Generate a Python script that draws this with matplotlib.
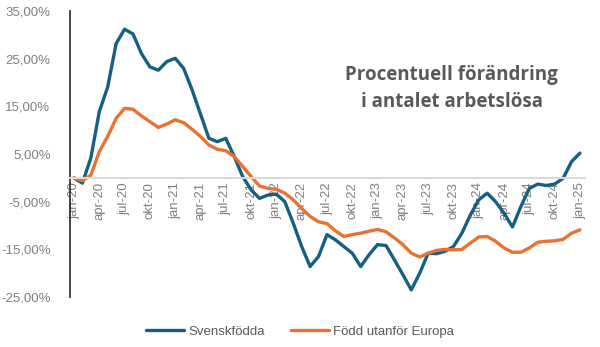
import matplotlib.pyplot as plt
import numpy as np

# months jan-20 .. jan-25
month_names = ['jan', 'feb', 'mar', 'apr', 'maj', 'jun', 'jul', 'aug', 'sep', 'okt', 'nov', 'dec']
months = [f"{month_names[i % 12]}-{20 + i // 12}" for i in range(61)]

# percent change in number of unemployed
svenskfodda = [0.0, -1.1, 4.2, 13.9, 19.1, 28.2, 31.2, 30.2, 26.1, 23.3, 22.6, 24.4,
               25.1, 23.0, 18.5, 13.4, 8.3, 7.6, 8.3, 4.5, 0.3, -2.5, -4.3, -3.6,
               -3.4, -5.0, -9.5, -14.4, -18.6, -16.5, -11.9, -13.0, -14.4, -15.8, -18.6, -16.1,
               -14.0, -14.2, -17.2, -20.3, -23.5, -20.0, -15.8, -15.9, -15.4, -14.4, -11.6, -7.8,
               -4.6, -3.2, -5.0, -7.4, -10.3, -6.0, -2.2, -1.3, -1.6, -1.3, -0.1, 3.4, 5.2]
fodd_utanfor_europa = [0.0, -0.6, 0.6, 5.5, 8.7, 12.5, 14.6, 14.4, 13.0, 11.8, 10.6, 11.3,
                       12.2, 11.6, 10.2, 8.7, 6.9, 6.0, 5.7, 4.5, 2.4, 0.3, -1.7, -2.2,
                       -2.4, -3.2, -4.6, -6.4, -8.1, -9.2, -9.6, -11.1, -12.3, -11.9, -11.6, -11.2,
                       -10.8, -11.3, -12.6, -14.0, -15.8, -16.6, -15.8, -15.2, -15.0, -15.1, -15.0, -13.7,
                       -12.4, -12.3, -13.3, -14.7, -15.6, -15.6, -14.7, -13.5, -13.3, -13.2, -12.9, -11.6, -10.9]

yticks = [35, 25, 15, 5, -5, -15, -25]

blue = '#156082'
orange = '#E97132'
gray = '#595959'

fig = plt.figure(figsize=(6, 3.47), dpi=100)
ax = fig.add_axes([0.1167, 0.144, 0.8583, 0.824])

x = np.arange(len(months))
ax.plot(x, svenskfodda, color=blue, lw=2.4, label='Svenskfödda', solid_capstyle='round')
ax.plot(x, fodd_utanfor_europa, color=orange, lw=2.4, label='Född utanför Europa', solid_capstyle='round')

ax.set_xlim(-0.47, 60.6)
ax.set_ylim(-25, 35)

ax.set_yticks(yticks)
ax.set_yticklabels([f"{v:.2f}%".replace('.', ',') for v in yticks])
ax.set_xticks(x[::3])
ax.set_xticklabels(months[::3])

ax.tick_params(axis='both', length=0, labelsize=9.5, labelcolor='#7f7f7f',
               labelfontfamily='Liberation Sans')
ax.tick_params(axis='x', pad=3, labelrotation=90)
ax.tick_params(axis='y', pad=14)

ax.spines['top'].set_visible(False)
ax.spines['right'].set_visible(False)
ax.spines['bottom'].set_position(('data', 0))
ax.spines['bottom'].set_color('#d9d9d9')
ax.spines['bottom'].set_linewidth(1.5)
ax.spines['left'].set_color('#262626')
ax.spines['left'].set_linewidth(1.2)
ax.set_axisbelow(True)

fig.text(0.753, 0.745, 'Procentuell förändring\ni antalet arbetslösa', ha='center', va='center',
         fontsize=13.5, fontweight='bold', color=gray, family='Open Sans', linespacing=1.45)

fig.legend(loc='center', bbox_to_anchor=(0.5, 0.045), ncol=2, frameon=False,
           prop={'family': 'Liberation Sans', 'size': 9.5}, labelcolor=gray,
           handlelength=2.9, handletextpad=0.3, columnspacing=2.0)

fig.savefig('out.png', dpi=100)
